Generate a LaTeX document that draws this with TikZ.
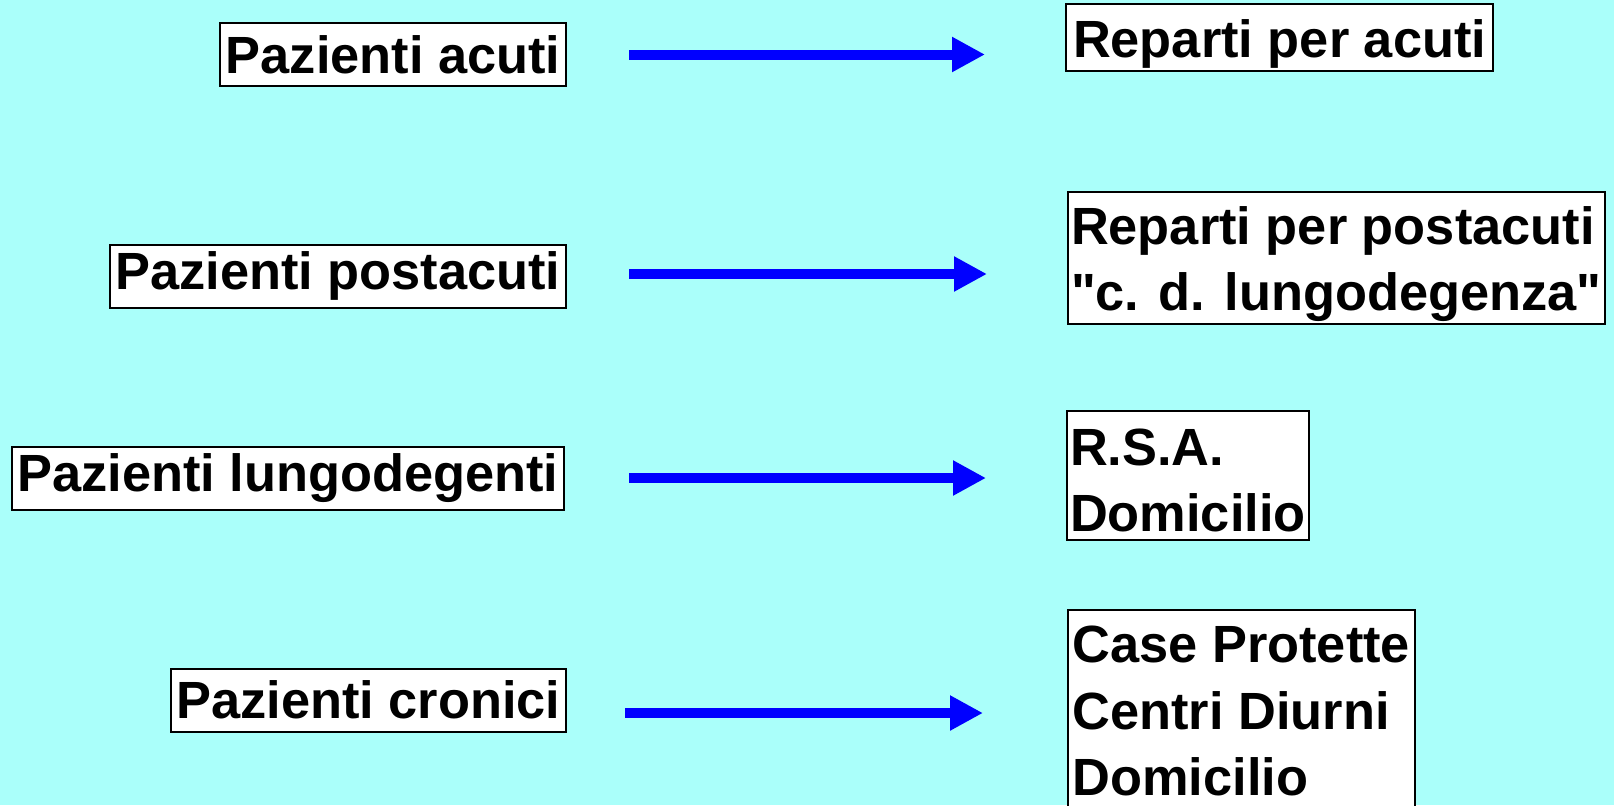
\documentclass[tikz,border=0pt]{standalone}
\usepackage{fontspec}
\setmainfont{Liberation Sans}
\usetikzlibrary{arrows.meta}
\definecolor{sfondo}{RGB}{170,255,250}
\definecolor{freccia}{RGB}{0,0,255}
\def\txt{\fontsize{14.9pt}{18.8pt}\selectfont\bfseries}
\def\alza#1{\rule{0pt}{#1}}

\begin{document}
\begin{tikzpicture}[
		box/.style={draw=black, line width=0.2mm, fill=white, font=\txt, inner ysep=0pt, inner xsep=0.055cm, align=left},
		arr/.style={draw=freccia, line width=0.1cm, -{Triangle[length=0.33cm, width=0.33cm]}, shorten <=0.62cm, shorten >=0.8cm}
	]
			%%%%% START %%%%%
			
			\fill[sfondo] (0, 0) rectangle (16.14, -8.05);
			\useasboundingbox (0, 0) rectangle (16.14, -8.05);
			
			\node[box, anchor=east, minimum height=0.63cm] (pa) at (5.67, -0.545) {Pazienti acuti};
			\node[box, anchor=east, minimum height=0.63cm] (pp) at (5.67, -2.76) {Pazienti postacuti};
			\node[box, anchor=east, minimum height=0.63cm] (pl) at (5.65, -4.78) {Pazienti lungodegenti};
			\node[box, anchor=east, minimum height=0.63cm] (pc) at (5.67, -7.00) {Pazienti cronici};
			
			\node[box, anchor=north west, text height=0.52cm, text depth=0.12cm, inner ysep=0.015cm, inner xsep=0.07cm] (ra) at (10.65, -0.03) {Reparti per acuti};
			\node[box, anchor=west, minimum height=1.32cm, inner xsep=0.03cm] (rp) at (10.67, -2.58) {\alza{0.5cm}Reparti per postacuti\\\textquotedbl c. d. lungodegenza\textquotedbl};
			\node[box, anchor=west, minimum height=1.29cm, inner xsep=0.03cm] (rr) at (10.66, -4.755) {\alza{0.47cm}R.S.A.\\Domicilio};
			\node[box, anchor=west, minimum height=2.02cm, inner xsep=0.045cm] (rc) at (10.67, -7.11) {Case Protette\\Centri Diurni\\Domicilio};
			
			\draw[arr] (pa.east) -- (pa.east -| ra.west);
			\draw[arr] ([yshift=0.02cm]pp.east) -- ([yshift=0.02cm]pp.east -| rp.west);
			\draw[arr] ([xshift=0.02cm]pl.east) -- (pl.east -| rr.west);
			\draw[arr, shorten <=0.58cm, shorten >=0.84cm] ([yshift=-0.13cm]pc.east) -- ([yshift=-0.13cm]pc.east -| rc.west);
			
			%%%%% END %%%%%
		\end{tikzpicture}
\end{document}
